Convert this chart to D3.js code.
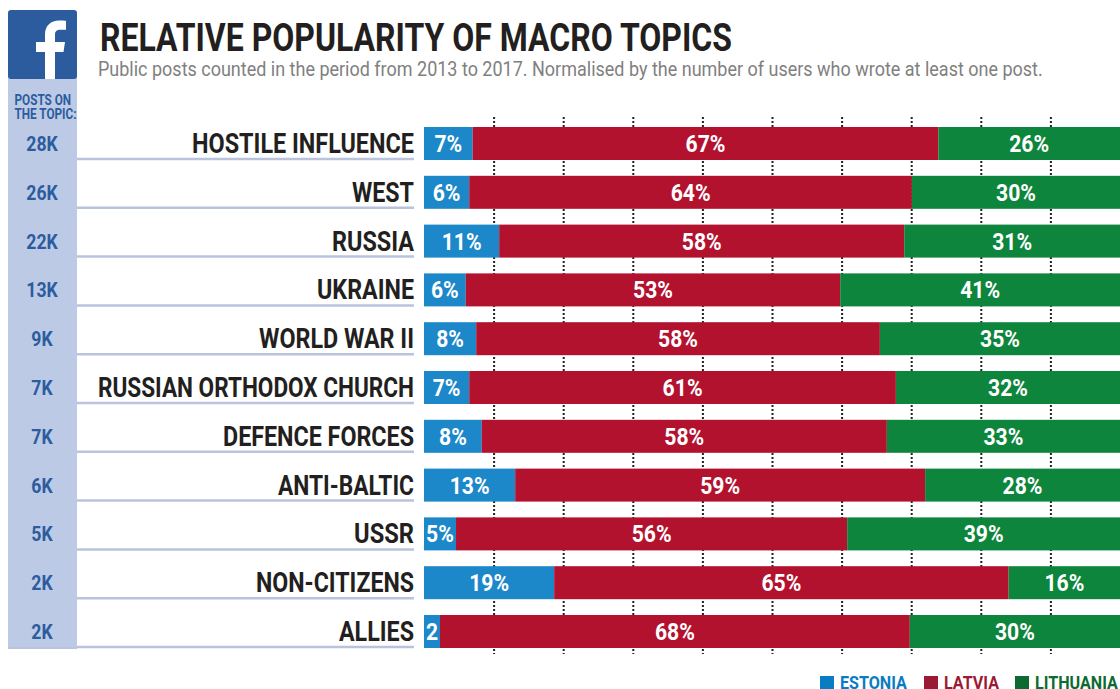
<!DOCTYPE html>
<html><head><meta charset="utf-8">
<script src="https://cdn.jsdelivr.net/npm/d3@7"></script>
<style>
html,body{margin:0;padding:0;background:#fff;overflow:hidden}
text{font-family:Roboto,sans-serif;font-weight:700}
</style></head><body>
<svg id="c" width="1120" height="689"></svg>
<script>
const categories=["HOSTILE INFLUENCE","WEST","RUSSIA","UKRAINE","WORLD WAR II","RUSSIAN ORTHODOX CHURCH","DEFENCE FORCES","ANTI-BALTIC","USSR","NON-CITIZENS","ALLIES"];
const postCounts=["28K","26K","22K","13K","9K","7K","7K","6K","5K","2K","2K"];
const estonia=[7.0,6.5,10.8,6.0,7.5,6.5,8.3,13.1,4.6,18.7,2.3];
const latvia=[66.9,63.6,58.2,53.8,58.0,61.3,58.2,58.9,56.2,65.3,67.5];
const lithuania=[26.1,29.9,31.0,40.2,34.5,32.2,33.5,28.0,39.2,16.0,30.2];
const estoniaLabels=["7%","6%","11%","6%","8%","7%","8%","13%","5%","19%","2"];
const latviaLabels=["67%","64%","58%","53%","58%","61%","58%","59%","56%","65%","68%"];
const lithuaniaLabels=["26%","30%","31%","41%","35%","32%","33%","28%","39%","16%","30%"];
const seriesNames=["ESTONIA","LATVIA","LITHUANIA"];
const barColors=["#1c87c9","#b3122f","#0e853c"];
const legendColors=["#0a7cc4","#9b1b34","#0d6b31"];
const tickValues=[10,20,30,40,50,60,70,80,90];
const labelFit=[222,62,82,97,155,316,191,136,60,158,75];
const BLUE="#2c5c9e",PANEL="#bccae6",RULE="#b9c3de",INK="#231f20";
const CX=0.84;

const svg=d3.select("#c");
const x=d3.scaleLinear().domain([0,100]).range([424,1120]);
const rowH=33;
const barTop=i=>127+i*48.8;

function condText(g,px,py,str,size,color,anchor,k){
  return g.append("text").attr("transform",`translate(${px},${py}) scale(${k||CX},1)`)
    .attr("font-size",size).attr("fill",color).attr("text-anchor",anchor).text(str);
}

// side panel and logo
svg.append("rect").attr("x",8).attr("y",70).attr("width",69).attr("height",579).attr("fill",PANEL);
svg.append("rect").attr("x",8).attr("y",10).attr("width",69).attr("height",69).attr("rx",3).attr("fill",BLUE);
svg.append("path").attr("fill","#fff")
  .attr("d","M45 79V52H36V42H45V34.500C45 25.500 51 20.500 59 20.500C62 20.500 64.500 20.600 66 20.800V29.800H60.500C56.500 29.800 55 31.500 55 34.800V42H65L63.500 52H55V79Z");
condText(svg,14.5,105,"POSTS ON",14.5,BLUE,"start",0.81);
condText(svg,14.5,119,"THE TOPIC:",14.5,BLUE,"start",0.81);

// title
condText(svg,100,51,"RELATIVE POPULARITY OF MACRO TOPICS",38,INK,"start",0.842);
condText(svg,98,76,"Public posts counted in the period from 2013 to 2017. Normalised by the number of users who wrote at least one post.",21,"#808080","start",0.857).style("font-weight",400);

// dotted ticks
const axis=d3.axisTop(x).tickValues(tickValues).tickSize(0).tickFormat("");
const ax=svg.append("g").attr("transform","translate(0,117)").call(axis);
ax.select(".domain").remove();
ax.selectAll(".tick line").attr("y1",0).attr("y2",537).attr("stroke","#222").attr("stroke-width",2).attr("stroke-dasharray","2 2");

// rows
const rows=categories.map((c,i)=>{
  const v=[estonia[i],latvia[i],lithuania[i]];
  const l=[estoniaLabels[i],latviaLabels[i],lithuaniaLabels[i]];
  let s=0;
  return {c,i,count:postCounts[i],segs:v.map((d,j)=>{const o={x0:s,x1:s+d,j,label:l[j]};s+=d;return o;})};
});
const rg=svg.selectAll("g.row").data(rows).join("g").attr("class","row");
rg.each(function(r){
  const g=d3.select(this),t=barTop(r.i);
  g.append("line").attr("x1",77).attr("x2",414).attr("y1",t+32).attr("y2",t+32).attr("stroke",RULE).attr("stroke-width",2.5);
  g.append("text").attr("x",414).attr("y",t+26).attr("font-size",27).attr("fill",INK).attr("text-anchor","end")
    .attr("textLength",labelFit[r.i]).attr("lengthAdjust","spacingAndGlyphs").text(r.c);
  condText(g,42,t+24,r.count,21,BLUE,"middle");
  g.selectAll("rect").data(r.segs).join("rect")
    .attr("x",d=>x(d.x0)).attr("y",t).attr("width",d=>Math.max(0,x(d.x1)-x(d.x0))).attr("height",rowH)
    .attr("fill",d=>barColors[d.j]);
  r.segs.forEach(d=>condText(g,(x(d.x0)+x(d.x1))/2,t+25,d.label,23,"#fff","middle",0.92));
});
svg.append("line").attr("x1",8).attr("x2",77).attr("y1",648).attr("y2",648).attr("stroke",RULE).attr("stroke-width",2);

// legend
const legendX=[820,924,1015];
seriesNames.forEach((n,i)=>{
  svg.append("rect").attr("x",legendX[i]).attr("y",676).attr("width",14).attr("height",14).attr("fill",legendColors[i]);
  condText(svg,legendX[i]+20,688.500,n,18,legendColors[i],"start",0.895);
});
</script></body></html>
